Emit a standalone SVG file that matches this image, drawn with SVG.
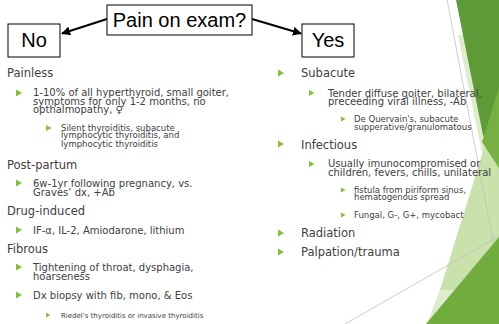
<svg xmlns="http://www.w3.org/2000/svg" xmlns:xlink="http://www.w3.org/1999/xlink" width="499" height="324" viewBox="0 0 499 324">
<style>
.h{font-family:"DejaVu Sans",sans-serif;font-size:11.5px;fill:#404040}
.t1{font-family:"DejaVu Sans",sans-serif;font-size:10px;fill:#404040}
.t2{font-family:"DejaVu Sans",sans-serif;font-size:8.5px;fill:#404040}
.t3{font-family:"DejaVu Sans",sans-serif;font-size:7px;fill:#404040}
.box{fill:#ffffff;stroke:#000000;stroke-width:1}
.bt{font-family:"Liberation Sans",Arial,sans-serif;font-size:20px;fill:#000000}
.conn{stroke:#000000;stroke-width:2;fill:none}
.bul{fill:#84BD3E}
.gl{stroke:#BFBFBF;stroke-width:0.8;fill:none}
</style>
<defs>
<marker id="ah" viewBox="0 0 10 10" refX="9" refY="5" markerWidth="4.5" markerHeight="4.5" orient="auto" markerUnits="strokeWidth">
<path d="M0,0 L10,5 L0,10 Z" fill="#000000"/>
</marker>
<path id="b1" class="bul" d="M0,-3.5 L6,0 L0,3.5 Z"/>
<path id="b2" class="bul" d="M0,-3 L5.5,0 L0,3 Z"/>
<path id="b3" class="bul" d="M0,-2.5 L4.5,0 L0,2.5 Z"/>
</defs>
<rect width="499" height="324" fill="#ffffff"/>
<g id="decor">
<polygon points="458,35 485,168 427,324 499,324 499,35" fill="#DEECCC"/>
<polygon points="499,100 440,290 499,290" fill="#C9E1AA"/>
<line class="gl" x1="447" y1="0" x2="499" y2="272"/>
<line class="gl" x1="345" y1="324" x2="499" y2="236"/>
<polygon points="456,0 499,0 499,162 483,135" fill="#5F9A38"/>
<polygon points="499,88 482,142 499,168" fill="#76B044"/>
<polygon points="499,237 426,324 499,324" fill="#70AC3E"/>
</g>
<g id="connectors">
<line class="conn" x1="107" y1="19" x2="62" y2="33.5" marker-end="url(#ah)"/>
<line class="conn" x1="252" y1="19" x2="301" y2="33.5" marker-end="url(#ah)"/>
</g>
<g id="pain">
<rect class="box" x="107" y="5" width="145" height="30"/>
<text class="bt" x="179.5" y="27" text-anchor="middle">Pain on exam?</text>
</g>
<g id="no">
<rect class="box" x="8" y="24" width="52" height="33"/>
<text class="bt" x="34" y="47" text-anchor="middle">No</text>
</g>
<g id="yes">
<rect class="box" x="302" y="24" width="52" height="33"/>
<text class="bt" x="328" y="47" text-anchor="middle">Yes</text>
</g>
<g id="left">
<text class="h" x="7" y="77">Painless</text>
<use xlink:href="#b1" x="16" y="93"/>
<text class="t1" x="33" y="96">1-10% of all hyperthyroid, small goiter,</text>
<text class="t1" x="33" y="104.5">symptoms for only 1-2 months, no</text>
<text class="t1" x="33" y="113">opthalmopathy, ♀</text>
<use xlink:href="#b2" x="46" y="128"/>
<text class="t2" x="61" y="130.5">Silent thyroiditis, subacute</text>
<text class="t2" x="61" y="138">lymphocytic thyroiditis, and</text>
<text class="t2" x="61" y="147">lymphocytic thyroiditis</text>
<text class="h" x="7" y="169">Post-partum</text>
<use xlink:href="#b1" x="16" y="183"/>
<text class="t1" x="33" y="187">6w-1yr following pregnancy, vs.</text>
<text class="t1" x="33" y="196">Graves’ dx, +Ab</text>
<text class="h" x="7" y="215">Drug-induced</text>
<use xlink:href="#b1" x="16" y="230"/>
<text class="t1" x="33" y="233.5">IF-α, IL-2, Amiodarone, lithium</text>
<text class="h" x="7" y="253">Fibrous</text>
<use xlink:href="#b1" x="16" y="267"/>
<text class="t1" x="33" y="271">Tightening of throat, dysphagia,</text>
<text class="t1" x="33" y="279.5">hoarseness</text>
<use xlink:href="#b1" x="16" y="295"/>
<text class="t1" x="33" y="299">Dx biopsy with fib, mono, &amp; Eos</text>
<use xlink:href="#b3" x="46" y="315"/>
<text class="t3" x="61" y="317.5">Riedel's thyroiditis or invasive thyroiditis</text>
</g>
<g id="right">
<use xlink:href="#b1" x="278" y="73"/>
<text class="h" x="301" y="77">Subacute</text>
<use xlink:href="#b2" x="309" y="93"/>
<text class="t1" x="328" y="97">Tender diffuse goiter, bilateral,</text>
<text class="t1" x="328" y="104.5">preceeding viral illness, -Ab</text>
<use xlink:href="#b3" x="341" y="119"/>
<text class="t2" x="354" y="122">De Quervain's, subacute</text>
<text class="t2" x="354" y="129.5">supperative/granulomatous</text>
<use xlink:href="#b1" x="278" y="144"/>
<text class="h" x="301" y="148.5">Infectious</text>
<use xlink:href="#b2" x="309" y="164"/>
<text class="t1" x="328" y="167">Usually imunocompromised or</text>
<text class="t1" x="328" y="175.5">children, fevers, chills, unilateral</text>
<use xlink:href="#b3" x="341" y="190"/>
<text class="t2" x="354" y="193">fistula from piriform sinus,</text>
<text class="t2" x="354" y="200">hematogenous spread</text>
<use xlink:href="#b3" x="341" y="215"/>
<text class="t2" x="354" y="217.5">Fungal, G-, G+, mycobact</text>
<use xlink:href="#b1" x="278" y="233"/>
<text class="h" x="301" y="237">Radiation</text>
<use xlink:href="#b1" x="278" y="252"/>
<text class="h" x="301" y="256">Palpation/trauma</text>
</g>
</svg>
